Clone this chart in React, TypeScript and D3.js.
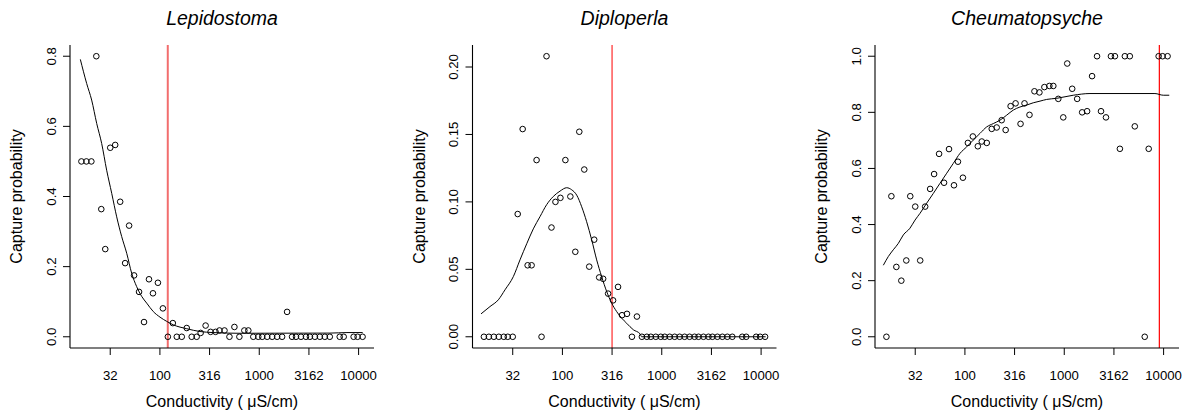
import React from 'react';
import * as d3 from 'd3';

// Conductivity bins (log10 µS/cm), shared by the three taxa
const logConductivity = [
  1.21, 1.26, 1.31, 1.36, 1.41, 1.45, 1.50, 1.55, 1.60, 1.65,
  1.69, 1.74, 1.79, 1.84, 1.89, 1.93, 1.98, 2.03, 2.08, 2.13,
  2.17, 2.22, 2.27, 2.32, 2.37, 2.41, 2.46, 2.51, 2.56, 2.60,
  2.65, 2.70, 2.75, 2.80, 2.85, 2.89, 2.94, 2.99, 3.03, 3.08,
  3.13, 3.18, 3.23, 3.28, 3.33, 3.37, 3.42, 3.47, 3.51, 3.56,
  3.61, 3.66, 3.71, 3.81, 3.85, 3.95, 3.99, 4.04,
];

const lepidostomaProb = [
  0.5, 0.5, 0.5, 0.8, 0.364, 0.25, 0.539, 0.547, 0.385, 0.21,
  0.317, 0.175, 0.128, 0.042, 0.164, 0.124, 0.154, 0.081, 0, 0.039,
  0, 0, 0.025, 0, 0, 0.011, 0.032, 0.014, 0.014, 0.018,
  0.018, 0, 0.028, 0, 0.018, 0.018, 0, 0, 0, 0,
  0, 0, 0, 0.071, 0, 0, 0, 0, 0, 0,
  0, 0, 0, 0, 0, 0, 0, 0,
];

const diploperlaProb = [
  0, 0, 0, 0, 0, 0, 0, 0.091, 0.154, 0.053,
  0.053, 0.131, 0, 0.208, 0.081, 0.1, 0.103, 0.131, 0.104, 0.063,
  0.152, 0.124, 0.052, 0.072, 0.044, 0.043, 0.032, 0.027, 0.037, 0.016,
  0.017, 0, 0.015, 0, 0, 0, 0, 0, 0, 0,
  0, 0, 0, 0, 0, 0, 0, 0, 0, 0,
  0, 0, 0, 0, 0, 0, 0, 0,
];

const cheumatopsycheProb = [
  0, 0.501, 0.249, 0.2, 0.272, 0.501, 0.464, 0.272, 0.464, 0.527,
  0.58, 0.652, 0.549, 0.669, 0.54, 0.624, 0.567, 0.691, 0.714, 0.679,
  0.696, 0.691, 0.741, 0.746, 0.772, 0.737, 0.822, 0.832, 0.759, 0.832,
  0.791, 0.875, 0.871, 0.89, 0.894, 0.894, 0.848, 0.782, 0.974, 0.884,
  0.848, 0.8, 0.804, 0.929, 1.0, 0.804, 0.782, 1.0, 1.0, 0.67,
  1.0, 1.0, 0.75, 0, 0.67, 1.0, 1.0, 1.0,
];

// Smoothed fits: [log10 conductivity, probability]
const lepidostomaCurve: [number, number][] = [
  [1.199, 0.791], [1.263, 0.722], [1.313, 0.675], [1.364, 0.608], [1.414, 0.551],
  [1.464, 0.475], [1.515, 0.409], [1.565, 0.342], [1.615, 0.286], [1.666, 0.238],
  [1.716, 0.181], [1.766, 0.143], [1.817, 0.115], [1.867, 0.096], [1.933, 0.072],
  [2.001, 0.056], [2.068, 0.044], [2.135, 0.034], [2.27, 0.023], [2.404, 0.015],
  [2.537, 0.012], [2.806, 0.01], [3.712, 0.0105], [3.883, 0.012], [4.041, 0.012],
];

const diploperlaCurve: [number, number][] = [
  [1.181, 0.017], [1.271, 0.0224], [1.355, 0.0274], [1.422, 0.0348], [1.506, 0.0446],
  [1.573, 0.057], [1.641, 0.069], [1.707, 0.08], [1.774, 0.089], [1.842, 0.098],
  [1.908, 0.104], [1.976, 0.108], [2.043, 0.1105], [2.093, 0.109], [2.144, 0.105],
  [2.194, 0.0964], [2.244, 0.0853], [2.295, 0.0718], [2.345, 0.057], [2.395, 0.0446],
  [2.446, 0.0335], [2.496, 0.0249], [2.546, 0.0187], [2.597, 0.0138], [2.647, 0.01],
  [2.714, 0.0052], [2.781, 0.0022], [2.798, 0], [4.046, 0],
];

const cheumatopsycheCurve: [number, number][] = [
  [1.179, 0.255], [1.229, 0.286], [1.279, 0.31], [1.33, 0.333], [1.38, 0.363],
  [1.447, 0.387], [1.498, 0.416], [1.548, 0.44], [1.615, 0.476], [1.682, 0.511],
  [1.749, 0.547], [1.817, 0.583], [1.883, 0.618], [1.951, 0.654], [2.018, 0.677],
  [2.084, 0.701], [2.152, 0.725], [2.219, 0.748], [2.286, 0.76], [2.353, 0.772],
  [2.421, 0.79], [2.487, 0.808], [2.554, 0.819], [2.622, 0.826], [2.688, 0.834],
  [2.756, 0.84], [2.823, 0.846], [2.924, 0.85], [3.091, 0.861], [3.259, 0.867],
  [3.913, 0.867], [3.997, 0.861], [4.057, 0.861],
];

const xTickValues = [31.62, 100, 316.2, 1000, 3162, 10000];
const xTickLabels = ['32', '100', '316', '1000', '3162', '10000'];

const taxa = ['Lepidostoma', 'Diploperla', 'Cheumatopsyche'];
const thresholds = [120, 316, 9060];
const yTicksLepidostoma = [0, 0.2, 0.4, 0.6, 0.8];
const yTicksDiploperla = [0, 0.05, 0.1, 0.15, 0.2];
const yTicksCheumatopsyche = [0, 0.2, 0.4, 0.6, 0.8, 1.0];

const FONT = "'Liberation Sans', Arial, Helvetica, sans-serif";
const TOP = 45;
const BOTTOM = 348;
const WIDTH = 304;
const LOG_MIN = 1.095;
const LOG_MAX = 4.155;

type PanelCfg = {
  title: string;
  left: number;
  probs: number[];
  curve: [number, number][];
  yTicks: number[];
  yDigits: number;
  yMax: number;
  threshold: number;
  thColor: string;
  thWidth: number;
};

const panels: PanelCfg[] = [
  { title: taxa[0], left: 70, probs: lepidostomaProb, curve: lepidostomaCurve, yTicks: yTicksLepidostoma, yDigits: 1, yMax: 0.8, threshold: thresholds[0], thColor: '#f26d6d', thWidth: 2 },
  { title: taxa[1], left: 472.5, probs: diploperlaProb, curve: diploperlaCurve, yTicks: yTicksDiploperla, yDigits: 2, yMax: 0.208, threshold: thresholds[1], thColor: '#ff0000', thWidth: 1 },
  { title: taxa[2], left: 875, probs: cheumatopsycheProb, curve: cheumatopsycheCurve, yTicks: yTicksCheumatopsyche, yDigits: 1, yMax: 1.0, threshold: thresholds[2], thColor: '#ff0000', thWidth: 1.2 },
];

function Panel({ cfg }: { cfg: PanelCfg }) {
  const x = d3.scaleLog().domain([10 ** LOG_MIN, 10 ** LOG_MAX]).range([cfg.left, cfg.left + WIDTH]);
  const y = d3.scaleLinear().domain([-0.04 * cfg.yMax, 1.04 * cfg.yMax]).range([BOTTOM, TOP]);
  const line = d3
    .line<[number, number]>()
    .x((d) => x(10 ** d[0]))
    .y((d) => y(d[1]))
    .curve(d3.curveMonotoneX);
  const cx = cfg.left + WIDTH / 2;
  const cy = (TOP + BOTTOM) / 2;
  return (
    <g>
      <text x={cx} y={25} textAnchor="middle" fontStyle="italic" fontSize={19.5} fontFamily={FONT}>
        {cfg.title}
      </text>
      {/* threshold */}
      <line x1={x(cfg.threshold)} x2={x(cfg.threshold)} y1={TOP} y2={BOTTOM} stroke={cfg.thColor} strokeWidth={cfg.thWidth} />
      {/* axes (L box) */}
      <line x1={cfg.left} x2={cfg.left} y1={TOP} y2={BOTTOM} stroke="#000" strokeWidth={1.1} />
      <line x1={cfg.left} x2={cfg.left + WIDTH} y1={BOTTOM} y2={BOTTOM} stroke="#000" strokeWidth={1.1} />
      {xTickValues.map((v, i) => (
        <g key={'xt' + i}>
          <line x1={x(v)} x2={x(v)} y1={BOTTOM} y2={BOTTOM + 7} stroke="#000" strokeWidth={1} />
          <text x={x(v)} y={380} textAnchor="middle" fontSize={13.2} fontFamily={FONT}>
            {xTickLabels[i]}
          </text>
        </g>
      ))}
      {cfg.yTicks.map((v, i) => (
        <g key={'yt' + i}>
          <line x1={cfg.left - 7} x2={cfg.left} y1={y(v)} y2={y(v)} stroke="#000" strokeWidth={1} />
          <text
            transform={`translate(${cfg.left - 14.5},${y(v)}) rotate(-90)`}
            textAnchor="middle"
            fontSize={13.2}
            fontFamily={FONT}
          >
            {v.toFixed(cfg.yDigits)}
          </text>
        </g>
      ))}
      <text x={cx} y={407} textAnchor="middle" fontSize={16} fontFamily={FONT}>
        Conductivity ( μS/cm)
      </text>
      <text transform={`translate(${cfg.left - 48},${cy}) rotate(-90)`} textAnchor="middle" fontSize={16} fontFamily={FONT}>
        Capture probability
      </text>
      {/* fitted curve */}
      <path d={line(cfg.curve) || ''} fill="none" stroke="#000" strokeWidth={1} />
      {/* observed points */}
      {cfg.probs.map((p, i) => (
        <circle key={'p' + i} cx={x(10 ** logConductivity[i])} cy={y(p)} r={2.8} fill="none" stroke="#000" strokeWidth={1} />
      ))}
    </g>
  );
}

export default function App() {
  return (
    <svg
      width={1182}
      height={414}
      style={{ position: 'absolute', left: 0, top: 0, display: 'block', background: '#fff' }}
    >
      <rect x={0} y={0} width={1182} height={414} fill="#fff" />
      {panels.map((p, i) => (
        <Panel key={i} cfg={p} />
      ))}
    </svg>
  );
}
